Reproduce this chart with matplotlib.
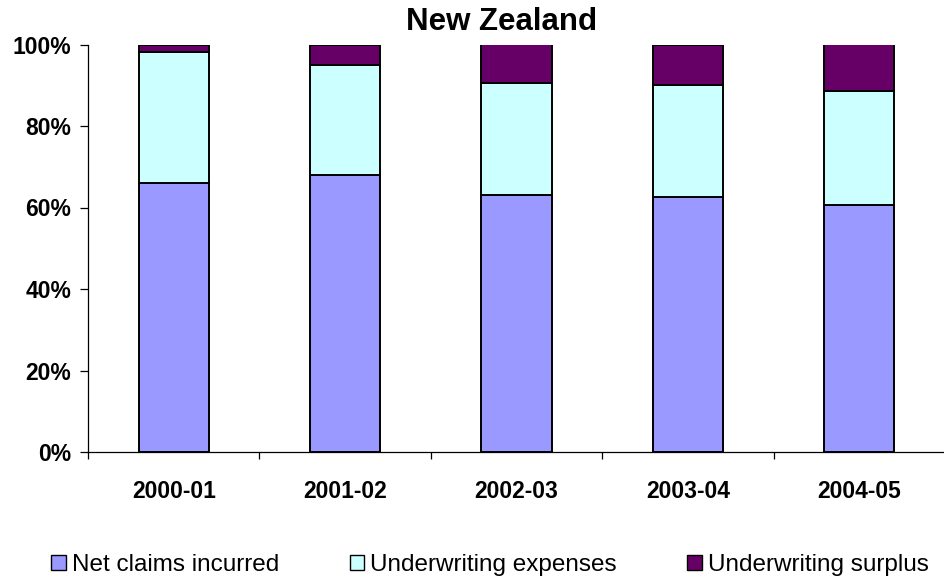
import matplotlib.pyplot as plt
import numpy as np
from matplotlib.patches import Patch
from matplotlib.ticker import FixedLocator, PercentFormatter

years = ['2000-01', '2001-02', '2002-03', '2003-04', '2004-05']
net_claims = [66.1, 67.9, 63.0, 62.5, 60.7]
uw_expenses = [32.1, 27.1, 27.6, 27.6, 27.9]
uw_surplus = [1.8, 5.0, 9.4, 9.9, 11.4]

series_names = ['Net claims incurred', 'Underwriting expenses', 'Underwriting surplus']
colours = ['#9999FF', '#CCFFFF', '#660066']

plt.rcParams['font.family'] = ['Liberation Sans', 'DejaVu Sans']

fig = plt.figure(figsize=(9.45, 5.8), dpi=100)
ax = fig.add_axes([88 / 945, 1 - 452 / 580, 857 / 945, (452 - 44.5) / 580])

x = np.arange(len(years))
bottom = np.zeros(len(years))
for vals, col in zip([net_claims, uw_expenses, uw_surplus], colours):
    ax.bar(x, vals, width=0.41, bottom=bottom, color=col,
           edgecolor='black', linewidth=1.4, zorder=3)
    bottom += np.array(vals)

ax.set_xlim(-0.5, len(years) - 0.5)
ax.set_ylim(0, 100)
ax.spines['top'].set_visible(False)
ax.spines['right'].set_visible(False)
for s in ['left', 'bottom']:
    ax.spines[s].set_linewidth(0.9)

ax.set_yticks(np.arange(0, 101, 20))
ax.yaxis.set_major_formatter(PercentFormatter(decimals=0))
ax.tick_params(axis='y', length=6, width=0.9, pad=6, labelsize=16.5)
for lab in ax.get_yticklabels():
    lab.set_fontweight('bold')

ax.set_xticks(x)
ax.set_xticklabels(years, fontsize=16.5, fontweight='bold')
ax.tick_params(axis='x', which='major', length=0, pad=20)
ax.xaxis.set_minor_locator(FixedLocator(np.arange(-0.5, len(years), 1.0)))
ax.tick_params(axis='x', which='minor', length=5, width=0.9)

fig.text(502 / 945, 1 - 22 / 580, 'New Zealand', ha='center', va='center',
         fontsize=22.5, fontweight='bold')

handles = [Patch(facecolor=c, edgecolor='black', linewidth=1.0) for c in colours]
fig.legend(handles, series_names, loc='center', ncol=3,
           bbox_to_anchor=(490 / 945, 1 - 565 / 580), frameon=False,
           fontsize=17.5, handlelength=0.6, handleheight=0.6,
           handletextpad=0.25, columnspacing=2.9, borderaxespad=0)

fig.savefig('out.png', dpi=100)
